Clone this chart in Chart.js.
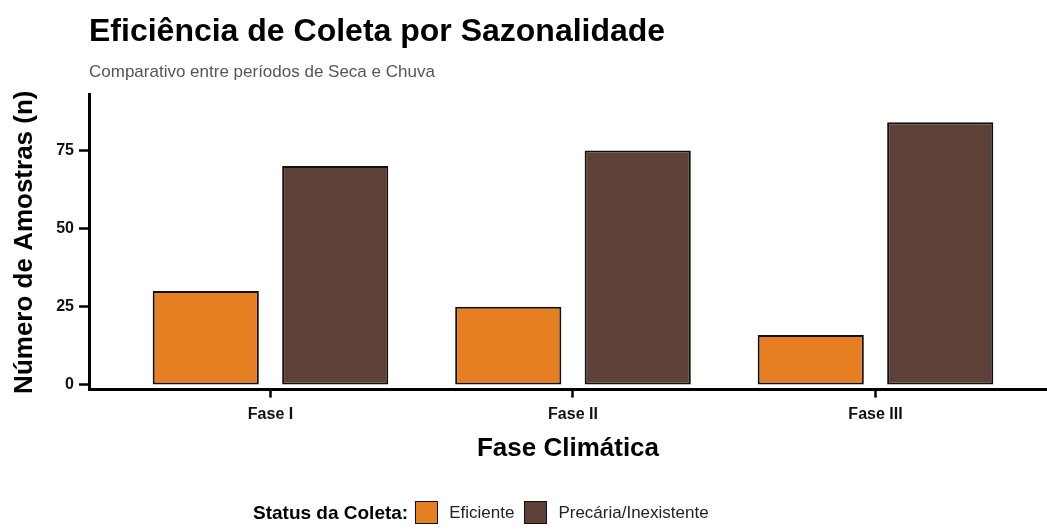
<!DOCTYPE html>
<html>
<head>
<meta charset="utf-8">
<script src="https://cdn.jsdelivr.net/npm/chart.js@4/dist/chart.umd.min.js"></script>
<style>
  body { margin: 0; background: #fff; font-family: "Liberation Sans", Arial, sans-serif; }
  #wrap { position: relative; width: 1047px; height: 530px; }
  #legend { position: absolute; left: 253px; top: 501px; display: flex; align-items: center; white-space: nowrap; }
  #legend .ttl { font-weight: bold; font-size: 19px; color: #000; margin-right: 7px; }
  #legend .box { width: 21px; height: 21px; border: 1.5px solid #111; margin-right: 11px; }
  #legend .lbl { font-size: 17px; color: #222; margin-right: 10px; }
</style>
</head>
<body>
<div id="wrap">
  <canvas id="chart" width="1047" height="530"></canvas>
  <div id="legend"></div>
</div>
<script>
const fases = ['Fase I', 'Fase II', 'Fase III'];
const eficiente = [30, 25, 16];
const precaria = [70, 75, 84];
const yTicks = [0, 25, 50, 75];

const laranja = '#E67E22';
const marrom = '#5D4037';

function toPoints(values) {
    return values.map((v, i) => ({ x: i, y: v }));
}

const font = "'Liberation Sans', Arial, sans-serif";

const chart = new Chart(document.getElementById('chart'), {
    type: 'bar',
    data: {
        datasets: [{
            label: 'Eficiente',
            data: toPoints(eficiente),
            backgroundColor: laranja,
            borderColor: '#111',
            borderWidth: 2,
            borderSkipped: false
        }, {
            label: 'Precária/Inexistente',
            data: toPoints(precaria),
            backgroundColor: marrom,
            borderColor: '#111',
            borderWidth: 2,
            borderSkipped: false
        }]
    },
    options: {
        responsive: false,
        animation: false,
        categoryPercentage: 0.856,
        barPercentage: 0.82,
        layout: { padding: { left: 0, right: 0, top: 0, bottom: 66 } },
        plugins: {
            legend: { display: false },
            tooltip: { enabled: false },
            title: {
                display: true,
                text: 'Eficiência de Coleta por Sazonalidade',
                align: 'start',
                fullSize: false,
                color: '#000',
                font: { family: font, size: 32, weight: 'bold' },
                padding: { top: 13, bottom: 0 }
            },
            subtitle: {
                display: true,
                text: 'Comparativo entre períodos de Seca e Chuva',
                align: 'start',
                fullSize: false,
                color: '#555',
                font: { family: font, size: 17 },
                padding: { top: 11, bottom: 12 }
            }
        },
        scales: {
            x: {
                type: 'linear',
                offset: false,
                min: -0.6,
                max: 2.567,
                grid: { display: true, offset: false, drawOnChartArea: false, drawTicks: true, tickLength: 8, tickColor: '#000', tickWidth: 2.5 },
                border: { display: true, color: '#000', width: 3 },
                ticks: {
                    stepSize: 1,
                    includeBounds: false,
                    padding: 7,
                    color: '#111',
                    font: { family: font, size: 16, weight: 'bold' },
                    callback: (v) => fases[v]
                },
                title: {
                    display: true,
                    text: 'Fase Climática',
                    color: '#000',
                    font: { family: font, size: 26, weight: 'bold' },
                    padding: { top: 2, bottom: 0 }
                }
            },
            y: {
                min: -1.5,
                max: 92.8,
                afterFit: (s) => { s.width = 89; },
                afterBuildTicks: (s) => { s.ticks = yTicks.map(v => ({ value: v })); },
                grid: { display: true, drawOnChartArea: false, drawTicks: true, tickLength: 10, tickColor: '#000', tickWidth: 2.5 },
                border: { display: true, color: '#000', width: 3 },
                ticks: {
                    padding: 5,
                    color: '#111',
                    font: { family: font, size: 16, weight: 'bold' }
                },
                title: {
                    display: true,
                    text: 'Número de Amostras (n)',
                    color: '#000',
                    font: { family: font, size: 26, weight: 'bold' },
                    padding: { top: 9, bottom: 0 }
                }
            }
        }
    }
});

// legenda em html, com o titulo na mesma linha
const legend = document.getElementById('legend');
let html = '<span class="ttl">Status da Coleta:</span>';
chart.data.datasets.forEach(ds => {
    html += '<span class="box" style="background:' + ds.backgroundColor + '"></span>';
    html += '<span class="lbl">' + ds.label + '</span>';
});
legend.innerHTML = html;
</script>
</body>
</html>
